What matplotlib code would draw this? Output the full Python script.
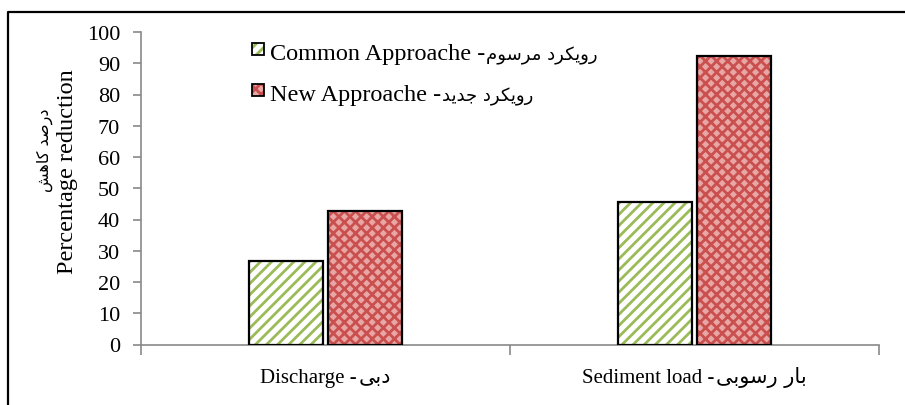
import numpy as np
import matplotlib
matplotlib.use('Agg')
import matplotlib.pyplot as plt
from matplotlib.patches import Rectangle
from matplotlib.lines import Line2D
from matplotlib.transforms import IdentityTransform

# data
categories_en = ['Discharge', 'Sediment load']
categories_fa = ['دبی', 'بار رسوبی']
series_en = ['Common Approache', 'New Approache']
series_fa = ['رویکرد مرسوم', 'رویکرد جدید']
common = [26.8, 45.7]
new = [42.6, 92.4]
yticks = list(range(0, 101, 10))
ylabel_en = 'Percentage reduction'
ylabel_fa = 'درصد کاهش'

# minimal persian shaping (matplotlib has no bidi / joining)
# iso, fin, ini, med  (None -> letter does not join to the next one)
FORMS = {
    'ا': ('\uFE8D', '\uFE8E', None, None),
    'ب': ('\uFE8F', '\uFE90', '\uFE91', '\uFE92'),
    'ج': ('\uFE9D', '\uFE9E', '\uFE9F', '\uFEA0'),
    'د': ('\uFEA9', '\uFEAA', None, None),
    'ر': ('\uFEAD', '\uFEAE', None, None),
    'س': ('\uFEB1', '\uFEB2', '\uFEB3', '\uFEB4'),
    'ش': ('\uFEB5', '\uFEB6', '\uFEB7', '\uFEB8'),
    'ص': ('\uFEB9', '\uFEBA', '\uFEBB', '\uFEBC'),
    'م': ('\uFEE1', '\uFEE2', '\uFEE3', '\uFEE4'),
    'ه': ('\uFEE9', '\uFEEA', '\uFEEB', '\uFEEC'),
    'و': ('\uFEED', '\uFEEE', None, None),
    'ی': ('\uFBFC', '\uFBFD', '\uFBFE', '\uFBFF'),
    'ک': ('\uFB8E', '\uFB8F', '\uFB90', '\uFB91'),
}

def shape(txt):
    out = []
    for i, c in enumerate(txt):
        if c not in FORMS:
            out.append(c)
            continue
        prev = txt[i-1] if i > 0 else ''
        nxt = txt[i+1] if i+1 < len(txt) else ''
        jp = prev in FORMS and FORMS[prev][2] is not None
        jn = FORMS[c][2] is not None and nxt in FORMS
        f = FORMS[c]
        if jp and jn:
            out.append(f[3])
        elif jp:
            out.append(f[1])
        elif jn:
            out.append(f[2])
        else:
            out.append(f[0])
    return ''.join(reversed(out))

plt.rcParams['font.family'] = ['Liberation Serif', 'DejaVu Sans']
plt.rcParams['hatch.linewidth'] = 2.0

W, H = 905, 406
green_face, green_hatch = '#ffffff', '#9BBB59'
red_face, red_hatch = '#E8A6A5', '#C9504F'
axis_col = '#898989'
fa_font = ['DejaVu Sans']

fig = plt.figure(figsize=(W/100, H/100), dpi=100)
ax = fig.add_axes([141/W, 1-345.5/H, (879-141)/W, (345.5-33)/H])
pix = IdentityTransform()   # pixel coords, origin bottom-left

x = np.arange(len(categories_en))
w = 0.203
off = 0.107
ax.bar(x - off, common, w, color=green_face, edgecolor=green_hatch, hatch='///', linewidth=0, zorder=2)
ax.bar(x - off, common, w, fill=False, edgecolor='black', linewidth=1.6, zorder=3)
ax.bar(x + off, new, w, color=red_face, edgecolor=red_hatch, hatch='xxx', linewidth=0, zorder=2)
ax.bar(x + off, new, w, fill=False, edgecolor='black', linewidth=1.6, zorder=3)

ax.set_xlim(-0.5, 1.5)
ax.set_ylim(0, 100)
ax.set_yticks(yticks)
ax.set_xticks([-0.5, 0.5, 1.5])
ax.set_xticklabels([])
ax.tick_params(axis='x', length=7, color=axis_col, width=1.2)
ax.tick_params(axis='y', length=6, color=axis_col, width=1.2, pad=9, labelsize=16)
for s in ['top', 'right']:
    ax.spines[s].set_visible(False)
for s in ['left', 'bottom']:
    ax.spines[s].set_color(axis_col)
    ax.spines[s].set_linewidth(1.2)

renderer = fig.canvas.get_renderer()

def pair(x0, y_base, en, fa, size_en, size_fa, center=False, gap=2):
    # english part then shaped persian part on the same baseline
    t1 = fig.text(x0, H - y_base, en, transform=pix, fontsize=size_en, va='baseline', ha='left')
    t2 = fig.text(x0, H - y_base, shape(fa), transform=pix, fontsize=size_fa, va='baseline',
                  ha='left', family=fa_font)
    w1 = t1.get_window_extent(renderer).width
    w2 = t2.get_window_extent(renderer).width
    start = x0 - (w1 + gap + w2) / 2 if center else x0
    t1.set_x(start)
    t2.set_x(start + w1 + gap)

# category labels under the axis
xc = ax.transData.transform(np.column_stack([x, np.zeros(len(x))]))[:, 0]
for cx, en, fa in zip(xc, categories_en, categories_fa):
    pair(cx, 383, en + ' -', fa, 15, 15, center=True)

# two-line y label, english + persian
fig.text(67, H - 172, ylabel_en, transform=pix, rotation=90, ha='center', va='center', fontsize=17.5)
fig.text(45, H - 150, shape(ylabel_fa), transform=pix, rotation=90, ha='center', va='center',
         fontsize=11.5, family=fa_font)

# legend drawn by hand
leg_rows = [(60, green_face, green_hatch, '///'), (101, red_face, red_hatch, 'xxx')]
for (yb, fc, hc, hatch), en, fa in zip(leg_rows, series_en, series_fa):
    box = (252, H - yb + 4, 12, 12)
    fig.add_artist(Rectangle(box[:2], box[2], box[3], transform=pix, facecolor=fc,
                             edgecolor=hc, hatch=hatch, linewidth=0))
    fig.add_artist(Rectangle(box[:2], box[2], box[3], transform=pix, fill=False,
                             edgecolor='black', linewidth=1.3))
    pair(270, yb, en + ' -', fa, 17.5, 13, gap=1)

# outer frame, only left and top edges fall inside the crop
fig.add_artist(Line2D([8, 8, W], [0, H - 12.5, H - 12.5], transform=pix,
                      color='black', linewidth=1.6))

fig.savefig('out.png', dpi=100)
